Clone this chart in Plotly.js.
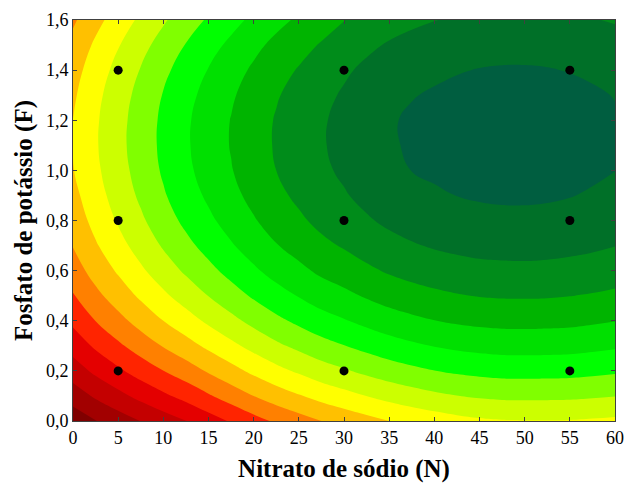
<!DOCTYPE html>
<html>
<head>
<meta charset="utf-8">
<script src="https://cdn.plot.ly/plotly-3.0.1.min.js"></script>
<style>html,body{margin:0;padding:0;background:#fff;}#chart{width:625px;height:486px;}</style>
</head>
<body>
<div id="chart"></div>
<script>
// Grid of the response surface
const nitrato = [0, 2.5, 5, 7.5, 10, 12.5, 15, 17.5, 20, 22.5, 25, 27.5, 30, 32.5, 35, 37.5, 40, 42.5, 45, 47.5, 50, 52.5, 55, 57.5, 60];
const fosfato = [0, 0.1, 0.2, 0.3, 0.4, 0.5, 0.6, 0.7, 0.8, 0.9, 1.0, 1.1, 1.2, 1.3, 1.4, 1.5, 1.6];
// one row per fosfato value, one column per nitrato value
const zRow00 = [0.35, 0.97, 1.50, 2.02, 2.50, 2.98, 3.55, 4.10, 4.65, 5.15, 5.58, 6.00, 6.35, 6.68, 7.00, 7.27, 7.50, 7.70, 7.85, 7.94, 7.96, 7.96, 7.95, 7.88, 7.80];
const zRow01 = [1.47, 2.14, 2.72, 3.28, 3.81, 4.32, 4.89, 5.45, 6.00, 6.50, 6.92, 7.34, 7.68, 8.01, 8.32, 8.58, 8.80, 8.98, 9.12, 9.20, 9.22, 9.21, 9.19, 9.12, 9.03];
const zRow02 = [2.50, 3.21, 3.83, 4.43, 4.99, 5.53, 6.11, 6.67, 7.22, 7.72, 8.14, 8.56, 8.89, 9.22, 9.52, 9.77, 9.98, 10.15, 10.27, 10.35, 10.36, 10.35, 10.32, 10.24, 10.14];
const zRow03 = [3.41, 4.16, 4.82, 5.46, 6.06, 6.62, 7.21, 7.77, 8.31, 8.81, 9.24, 9.65, 9.97, 10.30, 10.60, 10.84, 11.04, 11.20, 11.31, 11.38, 11.39, 11.37, 11.34, 11.25, 11.14];
const zRow04 = [4.22, 5.01, 5.70, 6.37, 7.00, 7.59, 8.18, 8.74, 9.28, 9.78, 10.21, 10.62, 10.93, 11.26, 11.56, 11.79, 11.98, 12.13, 12.23, 12.29, 12.30, 12.28, 12.24, 12.14, 12.03];
const zRow05 = [4.93, 5.75, 6.47, 7.16, 7.82, 8.43, 9.02, 9.59, 10.13, 10.63, 11.05, 11.47, 11.77, 12.10, 12.40, 12.62, 12.80, 12.94, 13.04, 13.09, 13.10, 13.08, 13.02, 12.93, 12.81];
const zRow06 = [5.54, 6.38, 7.12, 7.84, 8.52, 9.15, 9.74, 10.31, 10.85, 11.35, 11.77, 12.19, 12.49, 12.82, 13.11, 13.33, 13.50, 13.63, 13.73, 13.77, 13.78, 13.75, 13.69, 13.60, 13.47];
const zRow07 = [6.04, 6.90, 7.67, 8.40, 9.10, 9.74, 10.34, 10.91, 11.45, 11.95, 12.37, 12.78, 13.09, 13.42, 13.71, 13.92, 14.09, 14.21, 14.30, 14.34, 14.35, 14.32, 14.25, 14.15, 14.02];
const zRow08 = [6.43, 7.31, 8.10, 8.84, 9.56, 10.22, 10.81, 11.38, 11.92, 12.42, 12.84, 13.25, 13.57, 13.90, 14.18, 14.39, 14.55, 14.67, 14.75, 14.79, 14.80, 14.77, 14.70, 14.59, 14.46];
const zRow09 = [6.72, 7.61, 8.41, 9.17, 9.90, 10.56, 11.16, 11.73, 12.27, 12.77, 13.19, 13.60, 13.92, 14.25, 14.55, 14.76, 14.90, 15.01, 15.09, 15.13, 15.13, 15.10, 15.03, 14.92, 14.79];
const zRow10 = [6.96, 7.81, 8.61, 9.38, 10.12, 10.79, 11.39, 11.95, 12.50, 13.00, 13.41, 13.83, 14.15, 14.48, 14.80, 15.01, 15.12, 15.23, 15.31, 15.35, 15.35, 15.32, 15.24, 15.14, 15.01];
const zRow11 = [7.02, 7.90, 8.71, 9.48, 10.21, 10.88, 11.48, 12.05, 12.59, 13.09, 13.51, 13.92, 14.26, 14.59, 14.90, 15.10, 15.23, 15.34, 15.42, 15.45, 15.46, 15.42, 15.35, 15.24, 15.10];
const zRow12 = [7.01, 7.87, 8.68, 9.45, 10.19, 10.86, 11.46, 12.03, 12.57, 13.07, 13.49, 13.90, 14.25, 14.58, 14.92, 15.11, 15.22, 15.33, 15.40, 15.44, 15.44, 15.41, 15.34, 15.23, 15.09];
const zRow13 = [6.85, 7.74, 8.55, 9.31, 10.05, 10.71, 11.31, 11.88, 12.42, 12.92, 13.34, 13.75, 14.11, 14.44, 14.76, 14.96, 15.09, 15.20, 15.28, 15.31, 15.32, 15.28, 15.21, 15.11, 14.97];
const zRow14 = [6.62, 7.50, 8.30, 9.05, 9.78, 10.44, 11.04, 11.61, 12.15, 12.65, 13.07, 13.48, 13.86, 14.19, 14.47, 14.70, 14.84, 14.95, 15.03, 15.07, 15.07, 15.04, 14.97, 14.87, 14.73];
const zRow15 = [6.29, 7.16, 7.94, 8.68, 9.39, 10.04, 10.64, 11.21, 11.75, 12.25, 12.67, 13.08, 13.48, 13.81, 14.09, 14.30, 14.47, 14.59, 14.67, 14.71, 14.72, 14.69, 14.62, 14.52, 14.38];
const zRow16 = [5.85, 6.70, 7.46, 8.19, 8.88, 9.52, 10.12, 10.68, 11.22, 11.72, 12.15, 12.56, 12.98, 13.31, 13.60, 13.81, 13.98, 14.10, 14.19, 14.24, 14.24, 14.21, 14.15, 14.05, 13.92];

// Experimental design points
const pontosN = [5, 5, 5, 30, 30, 30, 55, 55, 55];
const pontosF = [0.2, 0.8, 1.4, 0.2, 0.8, 1.4, 0.2, 0.8, 1.4];

// Contour band colours, lowest to highest
const bandColors = ['#800000', '#a20000', '#c40000', '#e40000', '#ff2400', '#ff8000', '#ffc000', '#ffff00',
                    '#ccff00', '#80ff00', '#00ff00', '#00e000', '#00b400', '#008c1a', '#007028', '#005e40'];

// Tick labels
const xTickVals = [0, 5, 10, 15, 20, 25, 30, 35, 40, 45, 50, 55, 60];
const xTickText = ['0', '5', '10', '15', '20', '25', '30', '35', '40', '45', '50', '55', '60'];
const yTickVals = [0, 0.2, 0.4, 0.6, 0.8, 1.0, 1.2, 1.4, 1.6];
const yTickText = ['0,0', '0,2', '0,4', '0,6', '0,8', '1,0', '1,2', '1,4', '1,6'];

const zGrid = [zRow00, zRow01, zRow02, zRow03, zRow04, zRow05, zRow06, zRow07, zRow08,
               zRow09, zRow10, zRow11, zRow12, zRow13, zRow14, zRow15, zRow16];
const colorscale = bandColors.map((c, i) => [i / (bandColors.length - 1), c]);

const contour = {
  type: 'contour',
  x: nitrato, y: fosfato, z: zGrid,
  autocontour: false,
  contours: { start: 1, end: 15, size: 1, coloring: 'fill', showlines: false },
  colorscale: colorscale,
  showscale: false,
  line: { width: 0, smoothing: 1.3 },
  hoverinfo: 'skip'
};

const pontos = {
  type: 'scatter', mode: 'markers',
  x: pontosN, y: pontosF,
  marker: { color: '#000000', size: 9 },
  showlegend: false
};

const axisCommon = {
  showline: true, linecolor: '#404040', linewidth: 1, mirror: 'ticks',
  ticks: 'inside', ticklen: 4, tickcolor: '#404040',
  showgrid: false, zeroline: false,
  tickfont: { family: 'Liberation Serif', size: 18, color: '#000' }
};

const layout = {
  width: 625, height: 486,
  margin: { l: 73, r: 10, t: 20, b: 65 },
  paper_bgcolor: '#fff', plot_bgcolor: '#fff',
  showlegend: false,
  font: { family: 'Liberation Serif', color: '#000' },
  xaxis: Object.assign({}, axisCommon, {
    range: [0, 60], tickmode: 'array', tickvals: xTickVals, ticktext: xTickText,
    title: { text: '<b>Nitrato de sódio (N)</b>', font: { family: 'Liberation Serif', size: 25, color: '#000' }, standoff: 12 }
  }),
  yaxis: Object.assign({}, axisCommon, {
    range: [0, 1.6], tickmode: 'array', tickvals: yTickVals, ticktext: yTickText,
    title: { text: '<b>Fosfato de potássio (F)</b>', font: { family: 'Liberation Serif', size: 25, color: '#000' }, standoff: 6 }
  })
};

Plotly.newPlot('chart', [contour, pontos], layout, { staticPlot: true, displayModeBar: false });
</script>
</body>
</html>
